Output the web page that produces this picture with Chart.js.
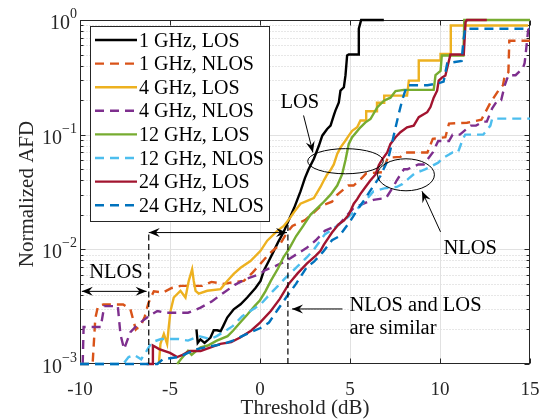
<!DOCTYPE html>
<html>
<head>
<meta charset="utf-8">
<script src="https://cdn.jsdelivr.net/npm/chart.js"></script>
<style>
  html, body { margin: 0; padding: 0; background: #fff; }
  canvas { display: block; }
</style>
</head>
<body>
<canvas id="afd" width="549" height="420"></canvas>
<script>
// axis ticks
const xTickValues = [-10, -5, 0, 5, 10, 15];
const xTickLabels = ['-10', '-5', '0', '5', '10', '15'];
const yTickValues = [1e-3, 1e-2, 1e-1, 1];
const yTickExponents = ['\u22123', '\u22122', '\u22121', '0'];

const seriesLabels = ['1 GHz, LOS', '1 GHz, NLOS', '4 GHz, LOS', '4 GHz, NLOS',
  '12 GHz, LOS', '12 GHz, NLOS', '24 GHz, LOS', '24 GHz, NLOS'];

// 1 GHz, LOS
const los1x = [-3.53, -3.46, -3.31, -3.08, -2.75, -2.57, -2.38, -2.19, -2.04, -1.82, -1.46, -1.08, -0.71, -0.25, 0.03, 0.21, 0.49, 0.77, 1.0, 1.3, 1.6, 1.9, 2.25, 2.5, 2.7, 3.0, 3.27, 3.46, 3.73, 3.92, 4.1, 4.19, 4.38, 4.47, 4.66, 4.75, 4.84, 4.93, 5.49, 5.49, 5.62, 6.88];
const los1y = [2.0e-3, 1.53e-3, 1.64e-3, 1.53e-3, 1.7e-3, 1.97e-3, 1.97e-3, 1.93e-3, 2.15e-3, 2.54e-3, 3.0e-3, 3.32e-3, 3.8e-3, 4.6e-3, 5.3e-3, 6.5e-3, 7.9e-3, 9.7e-3, 1.15e-2, 1.4e-2, 1.8e-2, 2.3e-2, 3.2e-2, 4.2e-2, 5.0e-2, 6.2e-2, 8.0e-2, 9.8e-2, 0.112, 0.12, 0.147, 0.162, 0.191, 0.242, 0.259, 0.33, 0.49, 0.5, 0.5, 0.84, 1.0, 1.0];

// 1 GHz, NLOS
const nlos1x = [-10, -9.3, -9.15, -9.0, -8.7, -7.6, -7.2, -6.9, -6.6, -6.4, -6.2, -5.9, -5.4, -4.9, -4.4, -3.2, -2.7, -2.0, -1.4, -0.9, -0.4, 0.0, 0.5, 1.1, 1.5, 1.8, 2.5, 3.0, 3.4, 4.0, 4.3, 4.9, 5.2, 5.6, 5.9, 6.8, 7.1, 7.8, 8.1, 9.3, 9.6, 10.3, 10.5, 11.5, 12.3, 12.8, 13.3, 13.5, 13.6, 13.8, 13.85, 15];
const nlos1y = [1e-3, 1e-3, 2.5e-3, 3.2e-3, 3.3e-3, 3.3e-3, 3.0e-3, 2.0e-3, 2.2e-3, 2.6e-3, 3.4e-3, 4.3e-3, 4.2e-3, 4.6e-3, 4.8e-3, 4.8e-3, 5.2e-3, 5.0e-3, 5.2e-3, 5.3e-3, 6.3e-3, 7.4e-3, 9.1e-3, 1.1e-2, 1.4e-2, 1.6e-2, 1.8e-2, 2.1e-2, 2.4e-2, 2.6e-2, 3.0e-2, 3.6e-2, 3.6e-2, 4.1e-2, 4.6e-2, 4.7e-2, 6.3e-2, 6.4e-2, 7.0e-2, 7.0e-2, 9.2e-2, 9.5e-2, 0.125, 0.127, 0.135, 0.19, 0.25, 0.27, 0.33, 0.35, 0.66, 0.66];

// 4 GHz, LOS
const los4x = [-5.62, -5.53, -5.34, -5.16, -5.07, -4.97, -4.79, -4.42, -4.14, -3.96, -3.77, -3.68, -3.58, -3.4, -2.93, -2.19, -1.82, -1.46, -1.08, -0.53, 0.03, 0.4, 0.96, 1.32, 1.69, 1.88, 2.25, 2.62, 2.99, 3.36, 3.55, 3.73, 3.92, 4.1, 4.29, 4.47, 4.75, 4.93, 5.12, 5.4, 5.58, 5.9, 5.9, 6.5, 6.5, 6.9, 6.9, 8.17, 8.27, 8.82, 8.82, 10.03, 10.03, 10.6, 10.6, 14.9];
const los4y = [1e-3, 1.5e-3, 1.83e-3, 1.5e-3, 2.1e-3, 2.9e-3, 3.8e-3, 4.35e-3, 3.8e-3, 5.3e-3, 6.7e-3, 5.3e-3, 4.35e-3, 4.1e-3, 4.35e-3, 4.5e-3, 5.3e-3, 6.1e-3, 6.9e-3, 7.9e-3, 9.7e-3, 1.19e-2, 1.45e-2, 1.6e-2, 1.9e-2, 2.1e-2, 2.5e-2, 2.65e-2, 2.8e-2, 3.5e-2, 4.0e-2, 4.5e-2, 4.9e-2, 5.5e-2, 6.8e-2, 7.7e-2, 8.9e-2, 0.098, 0.108, 0.116, 0.133, 0.133, 0.16, 0.16, 0.19, 0.19, 0.219, 0.219, 0.296, 0.296, 0.443, 0.443, 0.506, 0.506, 0.895, 0.895];

// 4 GHz, NLOS
const nlos4x = [-9.85, -9.8, -8.85, -8.65, -7.9, -7.75, -7.55, -7.2, -6.8, -6.2, -5.7, -5.3, -4.4, -4.0, -3.3, -2.7, -2.0, -1.4, -0.8, 0.0, 0.3, 0.9, 1.5, 2.0, 2.6, 3.1, 3.6, 4.4, 5.2, 6.0, 6.3, 7.0, 7.4, 7.6, 8.0, 8.2, 8.8, 9.1, 9.6, 9.9, 10.1, 10.5, 10.7, 11.1, 11.7, 12.0, 12.4, 12.6, 12.9, 13.2, 13.4, 13.6, 13.8, 14.2, 14.6, 14.7, 14.8, 14.9, 15];
const nlos4y = [1e-3, 2.1e-3, 2.1e-3, 3.2e-3, 3.2e-3, 1.8e-3, 1.35e-3, 1.9e-3, 2.2e-3, 2.6e-3, 2.9e-3, 2.8e-3, 2.8e-3, 2.8e-3, 3.1e-3, 3.5e-3, 4.2e-3, 4.9e-3, 5.5e-3, 6.1e-3, 6.6e-3, 7.2e-3, 8.0e-3, 9.0e-3, 1.03e-2, 1.2e-2, 1.45e-2, 1.65e-2, 2.3e-2, 2.6e-2, 2.7e-2, 2.8e-2, 3.5e-2, 4.0e-2, 5.0e-2, 5.0e-2, 5.5e-2, 5.5e-2, 7.0e-2, 8.8e-2, 8.8e-2, 8.8e-2, 0.1, 0.1, 0.12, 0.12, 0.13, 0.13, 0.17, 0.2, 0.2, 0.27, 0.33, 0.33, 0.38, 0.42, 0.58, 0.82, 0.86];

// 12 GHz, LOS
const los12x = [-4.6, -4.4, -4.0, -3.8, -3.3, -2.9, -2.4, -1.8, -1.5, -1.1, -0.7, -0.3, 0.0, 0.3, 0.6, 1.0, 1.3, 1.6, 2.0, 2.4, 2.8, 3.2, 3.55, 3.92, 4.29, 4.56, 4.75, 4.93, 5.12, 5.58, 5.86, 6.14, 6.51, 6.88, 7.25, 7.53, 7.99, 9.65, 9.75, 10.03, 10.1, 11.3, 11.35, 15];
const los12y = [1e-3, 1.1e-3, 1.3e-3, 1.2e-3, 1.4e-3, 1.45e-3, 1.6e-3, 1.75e-3, 1.95e-3, 2.3e-3, 2.7e-3, 3.2e-3, 3.6e-3, 4.3e-3, 5.3e-3, 6.8e-3, 8.5e-3, 1.0e-2, 1.3e-2, 1.6e-2, 2.0e-2, 2.3e-2, 2.6e-2, 3.0e-2, 3.6e-2, 4.5e-2, 6.0e-2, 8.3e-2, 0.095, 0.116, 0.128, 0.137, 0.173, 0.198, 0.21, 0.24, 0.246, 0.246, 0.33, 0.36, 0.49, 0.49, 1.0, 1.0];

// 12 GHz, NLOS
const nlos12x = [-10, -7.6, -7.3, -7.0, -6.6, -6.3, -6.0, -5.5, -4.5, -4.0, -3.4, -2.75, -2.4, -1.8, -1.5, -1.0, -0.7, -0.1, 0.1, 0.7, 1.0, 1.4, 1.7, 2.2, 2.6, 3.0, 3.6, 3.9, 4.5, 5.2, 5.9, 6.3, 6.9, 7.6, 7.9, 8.3, 8.6, 9.2, 9.9, 10.2, 10.7, 11.0, 11.25, 11.4, 11.9, 12.4, 12.8, 12.9, 13.4, 15];
const nlos12y = [1e-3, 1e-3, 1.15e-3, 1.2e-3, 1.1e-3, 1.3e-3, 1.55e-3, 1.65e-3, 1.65e-3, 1.6e-3, 1.75e-3, 1.65e-3, 1.75e-3, 2.0e-3, 2.15e-3, 2.6e-3, 2.8e-3, 3.2e-3, 3.4e-3, 4.3e-3, 4.8e-3, 5.6e-3, 6.2e-3, 7.4e-3, 8.5e-3, 1.0e-2, 1.35e-2, 1.45e-2, 1.7e-2, 2.1e-2, 2.7e-2, 3.2e-2, 3.4e-2, 3.5e-2, 3.7e-2, 4.2e-2, 4.6e-2, 5.0e-2, 5.7e-2, 6.3e-2, 7.0e-2, 7.0e-2, 9.0e-2, 0.1, 0.1, 0.1, 0.12, 0.138, 0.138, 0.138];

// 24 GHz, LOS
const los24x = [-6.3, -6.0, -5.95, -5.6, -5.0, -4.6, -4.3, -3.9, -3.3, -2.7, -2.2, -1.6, -1.1, -0.5, 0.0, 0.6, 1.1, 1.6, 2.1, 2.6, 3.1, 3.36, 3.55, 3.82, 4.0, 4.38, 4.66, 4.93, 5.21, 5.4, 5.58, 5.86, 6.14, 6.42, 6.6, 6.79, 7.07, 7.25, 7.53, 7.8, 8.17, 8.54, 8.82, 9.29, 9.47, 9.65, 9.84, 9.93, 10.12, 10.3, 10.58, 11.32, 11.42, 11.5, 12.6];
const los24y = [1e-3, 1e-3, 1.45e-3, 1.35e-3, 1.25e-3, 1.15e-3, 1.2e-3, 1.3e-3, 1.3e-3, 1.4e-3, 1.5e-3, 1.55e-3, 1.7e-3, 1.95e-3, 2.3e-3, 2.9e-3, 3.7e-3, 5.0e-3, 6.2e-3, 7.5e-3, 8.8e-3, 9.7e-3, 1.1e-2, 1.27e-2, 1.4e-2, 1.66e-2, 1.78e-2, 2.0e-2, 2.5e-2, 2.74e-2, 3.05e-2, 3.5e-2, 4.0e-2, 4.5e-2, 5.4e-2, 6.1e-2, 7.0e-2, 8.3e-2, 9.5e-2, 0.105, 0.116, 0.12, 0.142, 0.157, 0.174, 0.21, 0.242, 0.296, 0.316, 0.328, 0.5, 0.5, 0.957, 1.0, 1.0];

// 24 GHz, NLOS
const nlos24x = [-10, -5.7, -5.4, -4.5, -4.0, -3.5, -3.0, -2.5, -2.0, -1.5, -1.0, -0.5, 0.0, 0.5, 1.0, 1.5, 2.0, 2.6, 3.0, 3.5, 4.0, 4.4, 5.0, 5.4, 5.8, 6.1, 6.7, 7.1, 7.3, 7.5, 7.7, 7.9, 8.1, 8.2, 9.3, 9.9, 10.2, 10.4, 11.2, 11.3, 11.4, 15];
const nlos24y = [1e-3, 1e-3, 1.1e-3, 1.15e-3, 1.25e-3, 1.35e-3, 1.4e-3, 1.45e-3, 1.5e-3, 1.6e-3, 1.75e-3, 1.9e-3, 2.05e-3, 2.3e-3, 3.0e-3, 3.9e-3, 5.0e-3, 7.0e-3, 7.8e-3, 9.5e-3, 1.2e-2, 1.3e-2, 1.75e-2, 2.2e-2, 2.7e-2, 3.2e-2, 4.4e-2, 6.0e-2, 8.0e-2, 0.11, 0.15, 0.2, 0.25, 0.27, 0.27, 0.28, 0.29, 0.42, 0.44, 0.66, 0.84, 0.84];

const series = [
  { x: los1x, y: los1y, color: '#000000', dash: [] },
  { x: nlos1x, y: nlos1y, color: '#D95319', dash: [9, 6] },
  { x: los4x, y: los4y, color: '#EDB120', dash: [] },
  { x: nlos4x, y: nlos4y, color: '#7E2F8E', dash: [9, 6] },
  { x: los12x, y: los12y, color: '#77AC30', dash: [] },
  { x: nlos12x, y: nlos12y, color: '#4DBEEE', dash: [9, 6] },
  { x: los24x, y: los24y, color: '#A2142F', dash: [] },
  { x: nlos24x, y: nlos24y, color: '#0072BD', dash: [9, 6] }
];

const serif = "'Liberation Serif', 'DejaVu Serif', serif";
const axisInk = '#262626';

function arrowHead(ctx, x1, y1, x2, y2) {
  const a = Math.atan2(y2 - y1, x2 - x1);
  const c = Math.cos(a), s = Math.sin(a);
  const len = 11, half = 4.5;
  const bx = x2 - len * c, by = y2 - len * s;
  ctx.beginPath();
  ctx.moveTo(x2, y2);
  ctx.lineTo(bx - half * s, by + half * c);
  ctx.lineTo(x2 - len * 0.65 * c, y2 - len * 0.65 * s);
  ctx.lineTo(bx + half * s, by - half * c);
  ctx.closePath();
  ctx.fill();
}

function arrow(ctx, x1, y1, x2, y2, both) {
  ctx.beginPath();
  ctx.moveTo(x1, y1);
  ctx.lineTo(x2, y2);
  ctx.stroke();
  arrowHead(ctx, x1, y1, x2, y2);
  if (both) arrowHead(ctx, x2, y2, x1, y1);
}

const matlabLook = {
  id: 'matlabLook',
  beforeDatasetsDraw(chart) {
    const { ctx, chartArea: a, scales: { x, y } } = chart;
    const L = a.left + 0.5, R = a.right - 0.5, T = a.top + 0.5, B = a.bottom - 0.5;
    ctx.save();
    ctx.lineWidth = 1;
    // minor grid (log decades)
    ctx.strokeStyle = '#cfcfcf';
    ctx.setLineDash([1, 2]);
    [1e-3, 1e-2, 1e-1].forEach(d => {
      for (let k = 2; k <= 9; k++) {
        const py = Math.round(y.getPixelForValue(k * d)) + 0.5;
        ctx.beginPath(); ctx.moveTo(L, py); ctx.lineTo(R, py); ctx.stroke();
      }
    });
    ctx.setLineDash([]);
    // major grid
    ctx.strokeStyle = '#e1e1e1';
    xTickValues.forEach(v => {
      const px = Math.round(x.getPixelForValue(v)) + 0.5;
      if (px <= L + 1 || px >= R - 1) return;
      ctx.beginPath(); ctx.moveTo(px, T); ctx.lineTo(px, B); ctx.stroke();
    });
    yTickValues.forEach(v => {
      const py = Math.round(y.getPixelForValue(v)) + 0.5;
      if (py <= T + 1 || py >= B - 1) return;
      ctx.beginPath(); ctx.moveTo(L, py); ctx.lineTo(R, py); ctx.stroke();
    });
    // box
    ctx.strokeStyle = axisInk;
    ctx.strokeRect(L, T, R - L, B - T);
    // ticks (inside)
    xTickValues.forEach(v => {
      const px = Math.round(x.getPixelForValue(v)) + 0.5;
      ctx.beginPath();
      ctx.moveTo(px, B); ctx.lineTo(px, B - 5);
      ctx.moveTo(px, T); ctx.lineTo(px, T + 5);
      ctx.stroke();
    });
    yTickValues.forEach(v => {
      const py = Math.round(y.getPixelForValue(v)) + 0.5;
      ctx.beginPath();
      ctx.moveTo(L, py); ctx.lineTo(L + 5, py);
      ctx.moveTo(R, py); ctx.lineTo(R - 5, py);
      ctx.stroke();
    });
    [1e-3, 1e-2, 1e-1].forEach(d => {
      for (let k = 2; k <= 9; k++) {
        const py = Math.round(y.getPixelForValue(k * d)) + 0.5;
        ctx.beginPath();
        ctx.moveTo(L, py); ctx.lineTo(L + 3, py);
        ctx.moveTo(R, py); ctx.lineTo(R - 3, py);
        ctx.stroke();
      }
    });
    ctx.restore();
  },
  afterDatasetsDraw(chart) {
    const { ctx, chartArea: a, scales: { x, y } } = chart;
    const X = v => x.getPixelForValue(v), Y = v => y.getPixelForValue(v);
    ctx.save();

    // tick labels
    ctx.fillStyle = axisInk;
    ctx.font = '19px ' + serif;
    ctx.textAlign = 'center';
    ctx.textBaseline = 'alphabetic';
    xTickValues.forEach((v, i) => ctx.fillText(xTickLabels[i], X(v), a.bottom + 31));
    yTickValues.forEach((v, i) => {
      const right = a.left - 3, py = Y(v);
      ctx.font = '14px ' + serif;
      const ew = ctx.measureText(yTickExponents[i]).width;
      ctx.textAlign = 'left';
      ctx.fillText(yTickExponents[i], right - ew, py - 2);
      ctx.font = '20px ' + serif;
      ctx.textAlign = 'right';
      ctx.fillText('10', right - ew, py + 9);
    });

    // axis titles
    ctx.font = '21px ' + serif;
    ctx.textAlign = 'center';
    ctx.fillText('Threshold (dB)', (a.left + a.right) / 2, a.bottom + 50);
    ctx.save();
    ctx.translate(33, (a.top + a.bottom) / 2 + 2);
    ctx.rotate(-Math.PI / 2);
    ctx.fillText('Normalized AFD', 0, 0);
    ctx.restore();

    // annotations
    ctx.strokeStyle = '#000';
    ctx.fillStyle = '#000';
    ctx.lineWidth = 1;
    ctx.setLineDash([6, 3.5]);
    ctx.lineWidth = 1.2;
    ctx.beginPath();
    ctx.moveTo(X(-6.18), Y(1e-3)); ctx.lineTo(X(-6.18), Y(1.4e-2));
    ctx.moveTo(X(1.55), Y(1e-3)); ctx.lineTo(X(1.55), Y(1.7e-2));
    ctx.stroke();
    ctx.setLineDash([]);
    ctx.lineWidth = 1;
    arrow(ctx, X(-6.18), Y(1.4e-2), X(1.5), Y(1.4e-2), true);
    arrow(ctx, X(-6.3), Y(4.3e-3), X(-9.9), Y(4.3e-3), true);
    arrow(ctx, X(2.42), Y(0.147), X(2.94), Y(7.0e-2), false);
    arrow(ctx, X(10.03), Y(1.42e-2), X(9.0), Y(3.21e-2), false);
    arrow(ctx, X(4.58), Y(3.02e-3), X(1.78), Y(3.02e-3), false);

    // ellipses, given by their data bounding boxes
    [[2.65, 6.85, 4.56e-2, 7.55e-2], [6.53, 9.69, 3.24e-2, 6.16e-2]].forEach(e => {
      const x0 = X(e[0]), x1 = X(e[1]), y0 = Y(e[2]), y1 = Y(e[3]);
      ctx.beginPath();
      ctx.ellipse((x0 + x1) / 2, (y0 + y1) / 2, (x1 - x0) / 2, Math.abs(y0 - y1) / 2, 0, 0, Math.PI * 2);
      ctx.stroke();
    });

    ctx.font = '20.5px ' + serif;
    ctx.textAlign = 'left';
    ctx.fillText('LOS', X(1.14), Y(0.172));
    ctx.fillText('NLOS', X(10.19), Y(9.1e-3));
    ctx.fillText('NLOS and LOS', X(4.97), Y(2.9e-3));
    ctx.fillText('are similar', X(4.97), Y(1.83e-3));
    ctx.textAlign = 'center';
    ctx.fillText('NLOS', X(-8.0), Y(5.6e-3));

    // legend box
    const lx = 90.5, ly = 26.5, lw = 179, lh = 195;
    ctx.fillStyle = '#fff';
    ctx.fillRect(lx, ly, lw, lh);
    ctx.strokeStyle = axisInk;
    ctx.strokeRect(lx, ly, lw, lh);
    ctx.font = '20px ' + serif;
    ctx.textAlign = 'left';
    series.forEach((s, i) => {
      const cy = 40 + i * 23.6;
      ctx.strokeStyle = s.color;
      ctx.lineWidth = 2.4;
      ctx.setLineDash(s.dash);
      ctx.beginPath(); ctx.moveTo(95, cy); ctx.lineTo(137, cy); ctx.stroke();
      ctx.setLineDash([]);
      ctx.fillStyle = '#000';
      ctx.fillText(seriesLabels[i], 139, cy + 6.5);
    });
    ctx.restore();
  }
};

new Chart(document.getElementById('afd'), {
  type: 'line',
  data: {
    datasets: series.map((s, i) => ({
      label: seriesLabels[i],
      data: s.x.map((v, k) => ({ x: v, y: s.y[k] })),
      borderColor: s.color,
      backgroundColor: s.color,
      borderWidth: 2.4,
      borderDash: s.dash,
      pointRadius: 0,
      fill: false,
      tension: 0,
      clip: 3,
      order: series.length - i // later series on top, like MATLAB
    }))
  },
  options: {
    responsive: false,
    animation: false,
    devicePixelRatio: 1,
    events: [],
    layout: { padding: { left: 80, right: 19, top: 20, bottom: 56 } },
    plugins: { legend: { display: false }, tooltip: { enabled: false } },
    scales: {
      x: { type: 'linear', min: -10, max: 15, display: false },
      y: { type: 'logarithmic', min: 1e-3, max: 1, display: false }
    }
  },
  plugins: [matlabLook]
});
</script>
</body>
</html>
